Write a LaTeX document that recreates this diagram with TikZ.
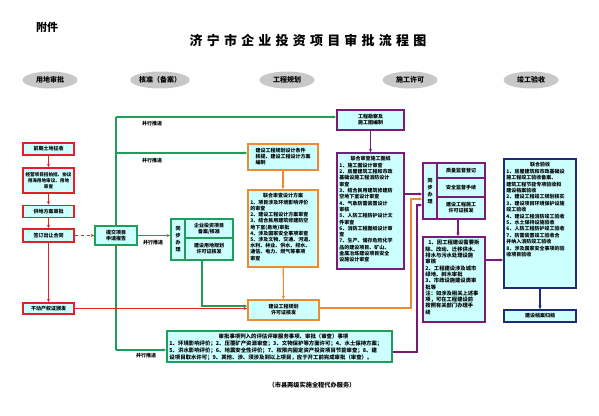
\documentclass[tikz,border=0pt]{standalone}
\usepackage{fontspec}
\setmainfont{Noto Sans CJK SC}
\usetikzlibrary{shapes.geometric,arrows.meta}
\definecolor{redc}{HTML}{E0202A}
\definecolor{greenc}{HTML}{1F9E5A}
\definecolor{orangec}{HTML}{F08A30}
\definecolor{purplec}{HTML}{7A1A7A}
\definecolor{bluec}{HTML}{1F2A78}
\definecolor{cyanf}{HTML}{CCFFFF}
\definecolor{ellf}{HTML}{C8C8C8}
\newcommand{\tsp}{\hspace{4.2pt}}
\tikzset{
  base/.style={draw, fill=cyanf, line width=1.5pt, inner sep=0pt, align=center,
    font=\fontsize{5}{6}\selectfont\bfseries},
  rbox/.style={base, draw=redc, minimum width=51pt},
  gbox/.style={base, draw=greenc},
  obox/.style={base, draw=orangec},
  pbox/.style={base, draw=purplec},
  nbox/.style={base, draw=bluec},
  vtext/.style={font=\fontsize{5}{7}\selectfont\bfseries},
  txt/.style={inner sep=0pt, align=left, font=\fontsize{5}{6.2}\selectfont\bfseries},
  ttl/.style={inner sep=0pt, font=\fontsize{5}{6}\selectfont\bfseries},
  oval/.style={ellipse, fill=ellf, minimum width=55pt, minimum height=17pt, inner sep=0pt,
    font=\fontsize{7}{7}\selectfont\bfseries},
  lbl/.style={inner sep=0pt, font=\fontsize{5}{5}\selectfont\bfseries},
  tip/.style={-{Stealth[length=3.5pt,width=3pt]}},
  rcon/.style={tip, draw=redc, line width=1.1pt},
  gcon/.style={tip, draw=greenc, line width=1.1pt},
  gline/.style={draw=greenc, line width=1.1pt},
  ocon/.style={tip, draw=orangec, line width=1.1pt},
  pcon/.style={tip, draw=purplec, line width=1.1pt},
  ncon/.style={tip, draw=bluec, line width=1.1pt}
}
\begin{document}
\begin{tikzpicture}[x=1pt,y=-1pt]
\useasboundingbox[fill=white] (0,0) rectangle (599,415);

% headings
\node[font=\fontsize{13}{13}\selectfont\bfseries, inner sep=0pt] (title) at (308,40)
  {济\tsp 宁\tsp 市\tsp 企\tsp 业\tsp 投\tsp 资\tsp 项\tsp 目\tsp 审\tsp 批\tsp 流\tsp 程\tsp 图};
\node[font=\fontsize{11}{11}\selectfont\bfseries, inner sep=0pt] (fujian) at (47,27) {附件};

\node[oval] (e1) at (50,80) {用地审批};
\node[oval] (e2) at (160,80) {核准（备案）};
\node[oval] (e3) at (287,80) {工程规划};
\node[oval] (e4) at (410,80) {施工许可};
\node[oval] (e5) at (531,80) {竣工验收};

% green trunk (drawn first, behind boxes)
\coordinate (gt) at (116,117);
\coordinate (gm) at (116,153);
\coordinate (gb) at (116,350);
\draw[gline] (gt) -- (gb);

% red column
\node[rbox, minimum height=12pt] (a1) at (48.5,149) {前期土地征收};
\node[rbox, minimum height=25pt, font=\fontsize{4.6}{5.8}\selectfont\bfseries] (a2) at (48.5,180.5) {经营项目招拍挂、协议\\用海用地审议、用地\\审查};
\node[rbox, minimum height=12pt] (a3) at (48.5,211.5) {供地方案审批};
\node[rbox, minimum height=13pt] (a4) at (48.5,235.5) {签订出让合同};
\node[rbox, minimum height=11pt] (a5) at (48.5,308.5) {不动产权证颁发};

% green boxes
\node[gbox, minimum width=42pt, minimum height=19pt] (b1) at (116,235.5) {提交项目\\申请报告};
\node[gbox, vtext, minimum width=14pt, minimum height=41pt] (b2l) at (178,239.5) {同\\步\\办\\理};
\node[gbox, minimum width=48pt, minimum height=19pt] (b2a) at (209,228.5) {企业投资项目\\备案/核准};
\node[gbox, minimum width=48pt, minimum height=22pt] (b2b) at (209,249) {建设用地规划\\许可证核发};

% orange boxes
\node[obox, align=left, minimum width=70pt, minimum height=26pt] (c1) at (283,157)
  {建设工程规划设计条件\\核提、建设工程设计方案\\编制};
\node[obox, minimum width=70pt, minimum height=77pt] (c2) at (283,228.5) {};
\node[ttl, anchor=north] (c2h) at ([yshift=-4pt]c2.north) {联合审查设计方案};
\node[txt, anchor=north west] (c2t) at ([shift={(3pt,-10.5pt)}]c2.north west)
  {1、项目涉及环境影响评价\\的审查\\2、建设工程设计方案审查\\3、结合民用建筑修建防空\\地下室(易地)审批\\4、涉及国家安全事项审查\\5、涉及文物、交通、河道、\\水利、林业、供水、排水、\\通信、电力、燃气等事项\\审查};
\node[obox, minimum width=71pt, minimum height=20pt] (c3) at (283.5,310) {建设工程规划\\许可证核发};

% purple boxes
\node[pbox, minimum width=67pt, minimum height=20pt] (d1) at (370.5,120) {工程勘察及\\施工图编制};
\node[pbox, minimum width=67pt, minimum height=116pt] (d2) at (370.5,211) {};
\node[ttl, anchor=north] (d2h) at ([yshift=-4pt]d2.north) {联合审查施工图纸};
\node[txt, anchor=north west, font=\fontsize{5}{6.3}\selectfont\bfseries] (d2t) at ([shift={(3pt,-10.5pt)}]d2.north west)
  {1、施工图设计审查\\2、房屋建筑工程和市政\\基础设施工程消防设计\\审查\\3、结合民用建筑修建防\\空地下室设计审查\\4、气象防雷装置设计\\审核\\5、人防工程防护设计文\\件审查\\6、消防工程图纸设计审\\查\\7、生产、储存危险化学\\品的建设项目、矿山、\\金属冶炼建设项目安全\\设施设计审查};

\node[pbox, vtext, minimum width=14pt, minimum height=56pt] (el) at (430,191) {同\\步\\办\\理};
\node[pbox, minimum width=48pt, minimum height=15pt] (ea) at (461,170.5) {质量监督登记};
\node[pbox, minimum width=48pt, minimum height=19pt] (eb) at (461,187.5) {安全监督手续};
\node[pbox, minimum width=48pt, minimum height=22pt] (ec) at (461,208) {建设工程施工\\许可证核发};
\node[pbox, minimum width=62pt, minimum height=85pt] (ee) at (454,279.5) {};
\node[txt, anchor=north west, font=\fontsize{5.3}{6.3}\selectfont\bfseries] (eet) at ([shift={(3pt,-4pt)}]ee.north west)
  {\hspace{3pt}1、因工程建设需要拆\\除、改动、迁移供水、\\排水与污水处理设施\\审核\\2、工程建设涉及城市\\绿地、树木审批\\3、市政设施建设类审\\批等\\注：如涉及相关上述事\\项，可在工程建设前\\按照有关部门办理手\\续};

% blue boxes
\node[nbox, minimum width=72pt, minimum height=129pt] (f1) at (540,223.5) {};
\node[ttl, anchor=north] (f1h) at ([yshift=-4pt]f1.north) {联合验收};
\node[txt, anchor=north west, font=\fontsize{5}{6.4}\selectfont\bfseries] (f1t) at ([shift={(3pt,-10.5pt)}]f1.north west)
  {1、房屋建筑和市政基础设\\施工程竣工验收备案、\\建筑工程节能专项验收和\\建设档案验收\\2、建设工程竣工规划核实\\3、建设项目环境保护设施\\竣工验收\\4、建设工程消防竣工验收\\5、水土保持设施验收\\6、人防工程防护竣工验收\\7、防雷装置竣工验收合\\并纳入消防竣工验收\\8、涉及国家安全事项的验\\收项目验收};
\node[nbox, minimum width=72pt, minimum height=12pt] (f2) at (540,316) {建设档案归档};

% bottom green box
\node[gbox, minimum width=225pt, minimum height=31pt] (g) at (279.5,346.5) {};
\node[ttl, anchor=north, font=\fontsize{5.4}{6}\selectfont\bfseries] (gh) at ([shift={(4pt,-3pt)}]g.north) {审批事项列入的评估评审服务事项、审批（审查）事项};
\node[txt, anchor=north west, font=\fontsize{5.4}{7}\selectfont\bfseries] (gtx) at ([shift={(3pt,-10pt)}]g.north west)
  {1、环境影响评价；2、压覆矿产资源审查；3、文物保护等方面许可；4、水土保持方案；\\5、洪水影响评价；6、地震安全性评价；7、权限内固定资产投资项目节能审查；8、建\\设项目取水许可；9、其他、涉、须涉及到以上项目，应于开工前完成审批（审查）。};

\node[inner sep=0pt, font=\fontsize{6.2}{7}\selectfont\bfseries] (foot) at (312,385) {（市县两级实施全程代办服务）};

% red connectors
\draw[rcon] (a1) -- (a2);
\draw[rcon] (a2) -- (a3);
\draw[rcon] (a3) -- (a4);
\draw[rcon] (a4) -- (a5);
\draw[rcon, dashed] (a4) -- (b1);
\draw[rcon] (a5.east) -- (a5.east -| c3.west);

% green connectors
\draw[gcon] (gt) -- (gt -| d1.west);
\draw[gcon] (gm) -- (gm -| c1.west);
\draw[gcon] (gb) -- (gb -| g.west);
\draw[gcon] (b1.east) -- (b1.east -| b2l.west);
\coordinate (gk) at (202,306);
\draw[gcon] (b2b.south -| gk) -- (gk) -- (gk -| c3.west);
\node[lbl] (l1) at (152,123.5) {并行推进};
\node[lbl] (l2) at (152,160.5) {并行推进};
\node[lbl] (l3) at (153,243) {并行推进};
\node[lbl] (l4) at (146,355.5) {并行推进};

% orange connectors
\draw[ocon] (c1) -- (c2);
\draw[ocon] (c2) -- (c3);
\coordinate (o1) at (411,308);
\coordinate (o2) at (411,199);
\draw[ocon] (c3.east |- o1) -- (o1) -- (o2) -- (o2 -| el.west);

% purple connectors
\draw[pcon] (d1) -- (d2);
\coordinate (p0) at (404,194);
\draw[pcon] (d2.east |- p0) -- (p0 -| el.west);
\coordinate (p1) at (417,352);
\coordinate (p2) at (417,205);
\draw[pcon] (g.east |- p1) -- (p1) -- (p2) -- (p2 -| el.west);
\coordinate (p3) at (458,230);
\draw[pcon] (ec.south -| p3) -- (ee.north -| p3);
\coordinate (p4) at (494,260);
\draw[pcon] (ee.east |- p4) -- (f1.west |- p4);

% navy connector
\draw[ncon] (f1) -- (f2);
\end{tikzpicture}
\end{document}
